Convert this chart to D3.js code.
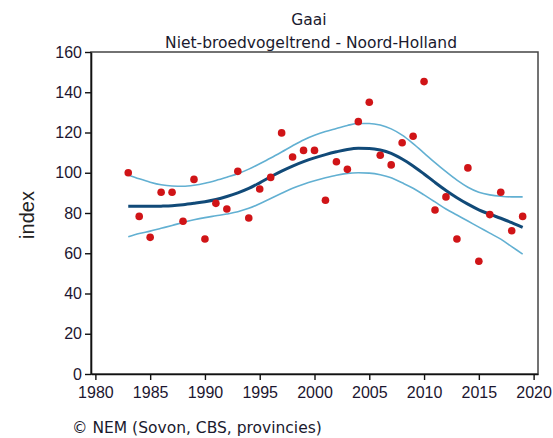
<!DOCTYPE html>
<html>
<head>
<meta charset="utf-8">
<script src="https://cdn.jsdelivr.net/npm/d3@7"></script>
<style>
  body { margin: 0; background: #fff; }
</style>
</head>
<body>
<div class="chart"></div>
<script>
// jaarlijkse indexen (punten)
const years = d3.range(1983, 2020);
const index = [100, 78.3, 67.9, 90.3, 90.3, 75.9, 96.7, 67.1, 84.8, 82, 100.7, 77.5, 91.9, 97.7,
  119.8, 107.8, 111.1, 111.1, 86.3, 105.5, 101.7, 125.4, 135, 108.7, 103.9, 114.9, 118.1,
  145.3, 81.5, 88, 67.1, 102.4, 56, 79.2, 90.3, 71.2, 78.3];
// trend en betrouwbaarheidsband
const trend = [83.3, 83.3, 83.3, 83.4, 83.6, 84.1, 84.8, 85.6, 86.7, 88.2, 90, 92.2, 95, 98,
  100.8, 103.3, 105.5, 107.4, 109, 110.4, 111.6, 112.2, 112.1, 111.3, 109.6, 106.8, 103.4,
  99.4, 95.2, 91.2, 87.6, 84.4, 81.6, 79.4, 77.4, 75.2, 72.8];
const upper = [98.9, 97, 95.3, 94, 93.4, 93.3, 93.8, 94.8, 96.2, 97.8, 99.5, 101.8, 104.5, 107.3,
  110.3, 113.4, 116.3, 118.6, 120.5, 122, 123.5, 124.5, 124.5, 123.7, 121.8, 118.7, 114.5,
  109.8, 105, 100.5, 96.3, 92.8, 90.3, 89, 88.3, 88, 88];
const lower = [68.2, 69.8, 71, 72.4, 73.8, 75.3, 76.6, 77.7, 78.6, 79.5, 80.6, 82.3, 84.6, 87.2,
  89.8, 92.3, 94.3, 96, 97.5, 98.8, 99.7, 100, 99.8, 99, 97.5, 95, 92.3, 89, 85.5, 82, 79,
  76, 73, 70, 67, 63.3, 59.6];
const xTicks = [1980, 1985, 1990, 1995, 2000, 2005, 2010, 2015, 2020];
const yTicks = [0, 20, 40, 60, 80, 100, 120, 140, 160];

const svg = d3.select(".chart").append("svg")
  .attr("width", 553)
  .attr("height", 438);

const plot = { left: 91, right: 538, top: 52, bottom: 374 };

const x = d3.scaleLinear().domain([1979.6, 2020.4]).range([plot.left, plot.right]);
const y = d3.scaleLinear().domain([0, 160]).range([plot.bottom, plot.top]);

// kader
svg.append("rect")
  .attr("x", plot.left).attr("y", plot.top)
  .attr("width", plot.right - plot.left).attr("height", plot.bottom - plot.top)
  .attr("fill", "none")
  .attr("stroke", "#444")
  .attr("stroke-width", 1.5);

const xAxis = svg.append("g")
  .attr("transform", `translate(0,${plot.bottom})`)
  .call(d3.axisBottom(x).tickValues(xTicks).tickFormat(d3.format("d")).tickSize(6).tickSizeOuter(0));
const yAxis = svg.append("g")
  .attr("transform", `translate(${plot.left},0)`)
  .call(d3.axisLeft(y).tickValues(yTicks).tickSize(6).tickSizeOuter(0));

[xAxis, yAxis].forEach(g => {
  g.select(".domain").attr("stroke", "#111").attr("stroke-width", 1.6);
  g.selectAll(".tick line").attr("stroke", "#111").attr("stroke-width", 1.4);
  g.selectAll(".tick text")
    .attr("font-family", "Liberation Sans, Arial, sans-serif")
    .attr("font-size", 16)
    .attr("fill", "#1c1630");
});
xAxis.selectAll(".tick text").attr("dy", "0.95em");
yAxis.selectAll(".tick text").attr("x", -9);

const line = (vals) => d3.line()
  .x((d, i) => x(years[i]))
  .y(d => y(d))
  .curve(d3.curveMonotoneX)(vals);

svg.append("path").attr("d", line(upper))
  .attr("fill", "none").attr("stroke", "#62b0d2").attr("stroke-width", 1.6);
svg.append("path").attr("d", line(lower))
  .attr("fill", "none").attr("stroke", "#62b0d2").attr("stroke-width", 1.6);
svg.append("path").attr("d", line(trend))
  .attr("fill", "none").attr("stroke", "#114a78").attr("stroke-width", 3);

svg.append("g").selectAll("circle")
  .data(index)
  .join("circle")
  .attr("cx", (d, i) => x(years[i]))
  .attr("cy", d => y(d))
  .attr("r", 3.8)
  .attr("fill", "#d01417");

// titels
svg.append("text")
  .text("Gaai")
  .attr("x", 309).attr("y", 25)
  .attr("text-anchor", "middle")
  .attr("font-family", "DejaVu Sans, sans-serif")
  .attr("font-size", 15.5)
  .attr("fill", "#1a1a2e");
svg.append("text")
  .text("Niet-broedvogeltrend - Noord-Holland")
  .attr("x", 311).attr("y", 48)
  .attr("text-anchor", "middle")
  .attr("font-family", "DejaVu Sans, sans-serif")
  .attr("font-size", 15.5)
  .attr("fill", "#1a1a2e");

svg.append("text")
  .text("index")
  .attr("transform", "translate(34,215) rotate(-90)")
  .attr("text-anchor", "middle")
  .attr("font-family", "Liberation Sans, Arial, sans-serif")
  .attr("font-size", 20)
  .attr("fill", "#222");

svg.append("text")
  .text("© NEM (Sovon, CBS, provincies)")
  .attr("x", 72).attr("y", 433)
  .attr("font-family", "DejaVu Sans, sans-serif")
  .attr("font-size", 15.5)
  .attr("fill", "#1a1a2e");
</script>
</body>
</html>
